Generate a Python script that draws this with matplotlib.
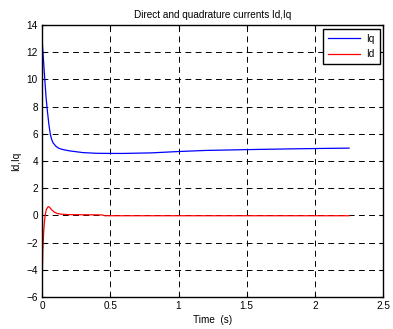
import matplotlib
matplotlib.use("Agg")
import matplotlib.pyplot as plt

# values
t_iq = [0, 0.001, 0.01, 0.02, 0.03, 0.04, 0.05, 0.06, 0.07, 0.08, 0.1, 0.12,
        0.15, 0.2, 0.3, 0.4, 0.5, 0.6, 0.8, 1.0, 1.2, 1.5, 1.8, 2.0, 2.25]
iq = [0, 12.8, 11.5, 10.0, 8.6, 7.6, 6.7, 6.0, 5.6, 5.35, 5.1, 4.95,
      4.85, 4.75, 4.62, 4.57, 4.56, 4.56, 4.6, 4.7, 4.78, 4.84, 4.89, 4.92, 4.95]

t_id = [0, 0.002, 0.006, 0.012, 0.018, 0.024, 0.032, 0.045, 0.055, 0.07, 0.09,
        0.11, 0.14, 0.2, 0.44, 0.46, 1.0, 1.5, 2.0, 2.25]
id_ = [0, -4.2, -2.5, -1.2, -0.4, 0.1, 0.45, 0.65, 0.6, 0.42, 0.25,
       0.15, 0.09, 0.06, 0.04, -0.02, -0.02, -0.02, -0.02, -0.02]

xticks = [0, 0.5, 1, 1.5, 2, 2.5]
yticks = [-6, -4, -2, 0, 2, 4, 6, 8, 10, 12, 14]

plt.rcParams['font.family'] = ['Liberation Sans', 'DejaVu Sans']
plt.rcParams['font.size'] = 7.2

fig = plt.figure(figsize=(3.93, 3.29), dpi=100)
ax = fig.add_axes([0.107, 0.097, 0.868, 0.827])

ax.plot(t_iq, iq, color='#0000ff', lw=0.9, label='Iq')
ax.plot(t_id, id_, color='#ff0000', lw=0.9, label='Id')

ax.set_xlim(0, 2.5)
ax.set_ylim(-6, 14)
ax.set_xticks(xticks)
ax.set_xticklabels(['0', '0.5', '1', '1.5', '2', '2.5'])
ax.set_yticks(yticks)
ax.tick_params(direction='in', top=True, right=True, length=3, width=0.8, pad=3)
ax.grid(True, color='black', linestyle=(0, (6, 4.5)), linewidth=0.7)
for s in ax.spines.values():
    s.set_linewidth(1.0)

ax.set_title('Direct and quadrature currents Id,Iq', fontsize=7.2, pad=5)
ax.set_xlabel('Time  (s)', labelpad=3)
ax.set_ylabel('Id,Iq', labelpad=4)

leg = ax.legend(loc='upper right', fancybox=False, framealpha=1, edgecolor='black',
                borderaxespad=0.35, borderpad=0.5, handlelength=3.2,
                handletextpad=0.6, labelspacing=0.55, fontsize=7.2)
leg.get_frame().set_linewidth(1.0)

fig.savefig('out.png', dpi=100)
